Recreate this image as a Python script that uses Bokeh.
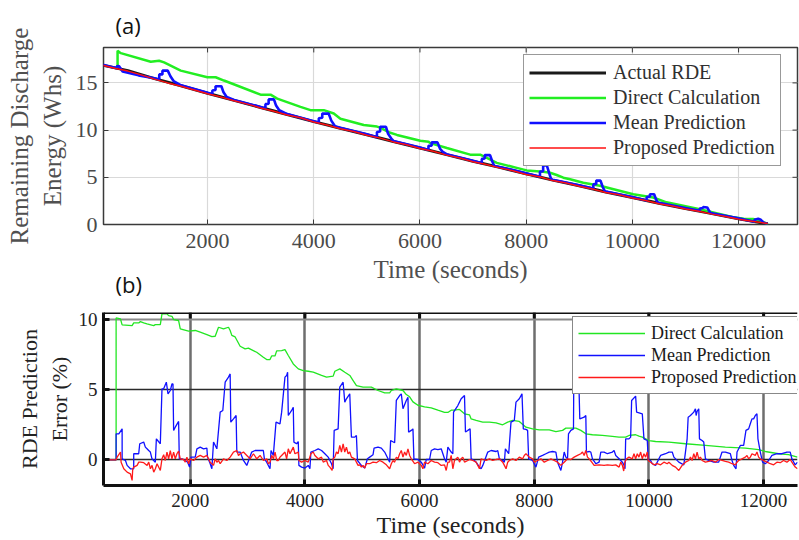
from bokeh.plotting import figure
from bokeh.layouts import column
from bokeh.models import (Range1d, FixedTicker, Legend, LegendItem,
                          Title, Grid, Span)
from bokeh.embed import file_html
from bokeh.resources import INLINE

# ---------------- data: panel (a) Remaining Discharge Energy (Whs) ----------------
top_x_actual = [0, 500, 1000, 1500, 2000, 2500, 3000, 3500, 4000, 4500, 5000, 5500, 6000,
                6500, 7000, 7500, 8000, 8500, 9000, 9500, 10000, 10500, 11000, 11500, 12000, 12550]
top_actual = [16.9, 16.3, 15.45, 14.7, 13.9, 13.15, 12.4, 11.65, 10.9, 10.2, 9.5, 8.8, 8.1,
              7.4, 6.7, 6.05, 5.37, 4.7, 4.1, 3.45, 2.86, 2.25, 1.7, 1.15, 0.6, 0.07]

top_x_direct = [305, 305, 366, 930, 1087, 1181, 1494, 1996, 2152, 2309, 2998, 3186, 3312, 3750,
                3938, 4189, 4377, 4502, 4941, 5066, 5191, 5254, 5411, 5567, 6006, 6162, 6194,
                6507, 6946, 7134, 7259, 7447, 7823, 8011, 8324, 8450, 8575, 8700, 8826, 9076,
                9389, 10016, 10392, 10643, 11270, 11896, 12100, 12272, 12400, 12554]
top_direct = [16.6, 18.4, 18.15, 17.24, 17.35, 17.17, 16.3, 15.6, 15.6, 15.25, 13.75, 13.75, 13.33,
              12.46, 12.11, 12.11, 11.76, 11.2, 10.54, 10.47, 10.37, 10.26, 9.77, 9.49, 8.87, 8.77,
              8.62, 8.1, 7.4, 7.4, 7.05, 6.53, 6.0, 5.73, 5.59, 5.48, 5.24, 4.96, 4.79, 4.43,
              4.1, 3.21, 2.86, 2.35, 1.63, 0.77, 0.6, 0.59, 0.45, 0.0]

top_x_mean = [0, 290, 290, 330, 400, 700, 1000, 1090, 1090, 1150, 1150, 1250, 1300, 1360, 1500,
              2000, 2090, 2090, 2150, 2150, 2260, 2300, 2360, 2500, 3000, 3090, 3090, 3150, 3150,
              3250, 3290, 3350, 3500, 4000, 4095, 4095, 4160, 4160, 4280, 4330, 4400, 4500, 5000,
              5190, 5190, 5250, 5250, 5360, 5400, 5460, 5500, 6000, 6160, 6160, 6220, 6220, 6330,
              6380, 6430, 6500, 7000, 7165, 7165, 7220, 7220, 7320, 7360, 7400, 7500, 8000, 8260,
              8260, 8320, 8320, 8390, 8430, 8470, 8500, 9000, 9265, 9265, 9320, 9320, 9400, 9440,
              9480, 9500, 10000, 10270, 10270, 10330, 10330, 10410, 10450, 10480, 10500, 11000,
              11270, 11270, 11330, 11330, 11410, 11450, 11480, 11500, 12000, 12300, 12300, 12370,
              12420, 12470, 12550]
top_mean = [16.95, 16.55, 16.75, 16.8, 16.2, 15.8, 15.5, 15.35, 15.9, 15.9, 16.3, 16.3, 15.7, 15.2,
            14.75, 13.95, 13.8, 14.2, 14.25, 14.65, 14.65, 14.0, 13.5, 13.2, 12.45, 12.3, 12.75,
            12.8, 13.25, 13.25, 12.6, 12.1, 11.7, 10.95, 10.8, 11.25, 11.3, 11.75, 11.75, 11.0,
            10.4, 10.25, 9.55, 9.25, 9.8, 9.85, 10.35, 10.35, 9.6, 9.1, 8.85, 8.15, 7.9, 8.35,
            8.35, 8.7, 8.7, 8.0, 7.7, 7.45, 6.75, 6.5, 6.95, 7.0, 7.35, 7.35, 6.7, 6.2, 6.1, 5.42,
            5.05, 5.6, 5.65, 6.25, 6.25, 5.5, 4.8, 4.75, 4.15, 3.8, 4.25, 4.3, 4.65, 4.65, 4.0,
            3.55, 3.5, 2.9, 2.55, 2.9, 2.95, 3.2, 3.2, 2.6, 2.3, 2.3, 1.75, 1.45, 1.7, 1.75, 1.85,
            1.8, 1.4, 1.15, 1.2, 0.65, 0.3, 0.5, 0.6, 0.5, 0.2, 0.05]

top_x_prop = [0, 250, 500, 750, 1000, 1250, 1500, 1750, 2000, 2250, 2500, 2750, 3000, 3250, 3500,
              3750, 4000, 4250, 4500, 4750, 5000, 5250, 5500, 5750, 6000, 6250, 6500, 6750, 7000,
              7250, 7500, 7750, 8000, 8250, 8500, 8750, 9000, 9250, 9500, 9750, 10000, 10250,
              10500, 10750, 11000, 11250, 11500, 11750, 12000, 12250, 12550]
top_prop = [16.9, 16.55, 16.25, 15.85, 15.4, 15.0, 14.65, 14.25, 13.85, 13.5, 13.1, 12.75, 12.35,
            12.0, 11.6, 11.3, 10.85, 10.55, 10.15, 9.85, 9.45, 9.15, 8.75, 8.45, 8.05, 7.75, 7.35,
            7.05, 6.65, 6.35, 6.0, 5.7, 5.3, 5.05, 4.65, 4.4, 4.05, 3.75, 3.4, 3.15, 2.8, 2.55,
            2.2, 1.95, 1.65, 1.4, 1.1, 0.85, 0.55, 0.35, 0.1]

top_xticks = [2000, 4000, 6000, 8000, 10000, 12000]
top_yticks = [0, 5, 10, 15]

# ---------------- data: panel (b) RDE prediction error (%) ----------------
err_x_direct = [487, 707, 707, 783, 812, 986, 1014, 1101, 1130, 1188, 1246, 1362, 1391, 1478, 1507,
                1594, 1623, 1681, 1710, 1797, 1826, 1971, 2087, 2174, 2290, 2377, 2435, 2493, 2580,
                2667, 2696, 2725, 2783, 2870, 2957, 3014, 3159, 3275, 3333, 3391, 3420, 3478, 3507,
                3594, 3652, 3710, 3797, 3884, 3971, 4058, 4145, 4290, 4377, 4493, 4522, 4609, 4696,
                4783, 4841, 4899, 5014, 5159, 5275, 5391, 5478, 5507, 5594, 5710, 5768, 5826, 5884,
                5971, 6087, 6203, 6319, 6435, 6493, 6551, 6609, 6696, 6783, 6870, 6899, 6986, 7101,
                7217, 7333, 7449, 7536, 7623, 7739, 7855, 7971, 8087, 8261, 8377, 8493, 8551, 8725,
                8812, 8899, 9014, 9188, 9362, 9478, 9594, 9652, 9768, 9826, 9884, 10000, 10116,
                10348, 10638, 10986, 11333, 11681, 11913, 12029, 12261, 12435, 12591]
err_direct = [0, 0, 10.09, 10.02, 9.6, 9.55, 9.74, 9.74, 9.83, 9.74, 9.67, 9.55, 9.62, 9.62, 10.38,
              10.38, 10.26, 10.21, 9.98, 9.91, 9.31, 9.15, 9.2, 9.08, 8.91, 8.77, 8.79, 9.43, 9.31,
              9.43, 9.2, 8.85, 8.74, 8.08, 7.89, 7.94, 7.65, 7.3, 7.13, 7.13, 7.39, 7.39, 7.75,
              7.77, 7.84, 7.42, 6.82, 6.47, 6.35, 6.3, 6.23, 6.0, 5.88, 5.95, 6.3, 6.47, 6.23,
              6.0, 5.64, 5.28, 5.17, 5.17, 4.93, 4.76, 4.76, 4.93, 5.05, 4.93, 4.64, 4.48, 4.12,
              3.88, 3.77, 3.7, 3.53, 3.37, 3.37, 3.53, 3.53, 3.58, 3.27, 3.2, 2.91, 2.8, 2.68,
              2.68, 2.63, 2.49, 2.68, 2.8, 2.73, 2.32, 2.2, 2.13, 2.13, 2.01, 2.09, 2.25, 2.25,
              2.09, 1.85, 1.78, 1.73, 1.66, 1.61, 1.61, 1.73, 1.78, 1.68, 1.61, 1.37, 1.3,
              1.26, 1.14, 1.02, 0.9, 0.83, 0.73, 0.59, 0.43, 0.36, 0.19]

err_x_mean = [487, 707, 707, 754, 812, 812, 870, 899, 957, 1014, 1014, 1101, 1119, 1188, 1217, 1246,
              1275, 1304, 1333, 1391, 1409, 1478, 1507, 1536, 1583, 1612, 1652, 1681, 1699, 1710,
              1739, 1797, 1809, 1855, 1913, 1954, 1988, 2012, 2087, 2116, 2174, 2232, 2290, 2301,
              2348, 2377, 2406, 2464, 2522, 2568, 2609, 2667, 2696, 2707, 2754, 2800, 2812, 2870,
              2928, 2986, 3072, 3130, 3217, 3275, 3293, 3333, 3391, 3409, 3449, 3496, 3565, 3594,
              3652, 3681, 3698, 3710, 3768, 3797, 3808, 3855, 3884, 3895, 3942, 4000, 4058, 4087,
              4104, 4174, 4232, 4290, 4348, 4406, 4464, 4492, 4510, 4579, 4608, 4666, 4695, 4724,
              4782, 4811, 4869, 4898, 4916, 4985, 5043, 5090, 5130, 5188, 5206, 5275, 5333, 5391,
              5449, 5478, 5495, 5565, 5594, 5652, 5681, 5710, 5768, 5797, 5808, 5855, 5884, 5901,
              5971, 6029, 6087, 6116, 6174, 6203, 6261, 6319, 6377, 6406, 6435, 6464, 6493, 6551,
              6580, 6592, 6667, 6696, 6725, 6783, 6800, 6841, 6881, 6899, 6957, 6986, 7044, 7073,
              7102, 7189, 7247, 7334, 7363, 7392, 7450, 7479, 7496, 7554, 7594, 7652, 7681, 7739,
              7786, 7809, 7855, 7884, 7902, 7971, 8029, 8076, 8145, 8203, 8261, 8319, 8377, 8406,
              8464, 8493, 8522, 8551, 8580, 8597, 8638, 8684, 8690, 8771, 8794, 8870, 8899, 8910,
              8957, 8986, 9015, 9073, 9131, 9160, 9218, 9276, 9363, 9392, 9421, 9479, 9537, 9566,
              9583, 9594, 9652, 9681, 9698, 9768, 9785, 9884, 9913, 9971, 9988, 10029, 10058,
              10116, 10145, 10174, 10203, 10290, 10348, 10406, 10435, 10521, 10608, 10637, 10666,
              10684, 10724, 10782, 10811, 10823, 10840, 10869, 10881, 10927, 10956, 10985, 11043,
              11130, 11217, 11275, 11333, 11420, 11449, 11478, 11519, 11536, 11594, 11652, 11692,
              11739, 11768, 11797, 11826, 11855, 11884, 11901, 11942, 11982, 12029, 12087, 12145,
              12232, 12319, 12406, 12464, 12493, 12551, 12591]
err_mean = [0, 0, 1.85, 1.85, 2.2, 0.07, -0.05, -0.4, -0.64, -0.64, 0.43, 0.43, 1.14, 1.26, 0.9, 0.78,
            0.66, 0.55, 0.07, -0.17, 1.49, 1.14, 5.05, 5.05, 5.52, 4.69, 4.93, 5.4, 5.4, 2.09,
            2.32, 2.73, 0.07, 0.07, -0.05, -0.17, -0.52, 0.19, 0.19, 0.78, 0.9, 0.78, 0.83, 0.19,
            -0.28, -0.64, 1.26, 0.78, 3.39, 3.51, 5.52, 5.88, 6.11, 2.68, 2.91, 3.15, 0.55, 0.55,
            -0.05, -0.4, 0.55, 0.66, 0.66, 0.66, 0.07, -0.17, -0.64, 0.66, 0.31, 2.68, 2.56, 3.39,
            5.88, 5.99, 6.23, 3.15, 3.51, 3.74, 1.26, 1.14, 1.3, -0.4, -0.52, -0.59, -0.4, -0.64,
            0.55, 0.66, 0.78, 0.66, 0.43, 0.19, -0.28, -0.64, 2.09, 2.2, 5.17, 5.52, 4.1, 4.34,
            4.69, 1.61, 1.61, 1.73, -0.05, -0.4, -0.59, 0.07, 0.19, 0.36, 0.83, 0.9, 0.83, 0.55,
            0.07, -0.17, 1.37, 1.21, 4.22, 4.57, 4.69, 3.63, 4.22, 4.45, 1.97, 2.09, 2.2, 0.07,
            0.02, -0.17, -0.59, 0.02, 0.02, 0.66, 0.78, 0.73, 0.78, 0.43, 0.07, -0.17, 0.9, 0.55,
            0.43, 3.39, 3.86, 4.1, 4.34, 4.57, 1.97, 2.09, 2.2, 0.07, -0.05, -0.17, -0.52, -0.64,
            -0.4, 0.55, 0.66, 0.59, 0.66, 0.07, -0.05, -0.17, 0.78, 0.43, 2.68, 2.8, 4.1, 4.34,
            4.69, 2.2, 2.16, 2.09, 0.07, -0.05, -0.52, 0.19, 0.31, 0.43, 0.55, 0.59, 0.55, -0.17,
            -0.76, -0.17, 0.55, 0.19, 0.07, 1.85, 2.09, 2.2, 6.3, 6.6, 2.91, 3.03, 3.15, 0.55,
            0.59, 0.55, 0.07, -0.28, -0.17, 0.55, 0.55, 0.43, 0.55, 0.66, 0.31, 0.07, -0.17, -0.4,
            -0.64, 1.49, 1.49, 1.61, 4.22, 4.53, 3.39, 3.27, 1.49, 1.37, 0.02, -0.05, -0.28,
            -0.4, -0.17, 0.07, 0.31, 0.43, 0.55, 0.55, 0.19, -0.17, -0.36, 0.55, 1.49,
            3.03, 3.15, 3.39, 3.63, 3.15, 3.44, 3.63, 1.49, 1.37, 1.26, 0.07, -0.05,
            -0.17, -0.17, 0.55, 0.55, 0.43, -0.05, -0.4, -0.64, 0.55, 1.02, 1.02, 2.09,
            2.2, 2.56, 2.91, 2.91, 3.15, 3.27, 1.49, 0.55, -0.17, -0.28, -0.05, 0.31,
            0.43, 0.43, 0.55, 0.55, 0.07, -0.36, -0.17]

err_x_prop = [487, 707, 725, 783, 794, 841, 899, 957, 986, 997, 1015, 1073, 1102, 1131, 1189, 1247,
              1276, 1305, 1334, 1363, 1392, 1421, 1478, 1507, 1536, 1565, 1594, 1623, 1652, 1681,
              1710, 1739, 1768, 1797, 1826, 1884, 1913, 1942, 1971, 2000, 2058, 2116, 2174, 2232,
              2290, 2319, 2348, 2406, 2435, 2464, 2493, 2522, 2580, 2638, 2696, 2754, 2812, 2841,
              2870, 2928, 2986, 3044, 3102, 3160, 3218, 3276, 3334, 3363, 3392, 3421, 3450, 3479,
              3508, 3536, 3565, 3594, 3652, 3681, 3710, 3739, 3797, 3826, 3884, 3895, 3942, 4000,
              4058, 4104, 4145, 4174, 4232, 4290, 4319, 4377, 4406, 4435, 4475, 4492, 4521, 4550,
              4579, 4608, 4637, 4666, 4695, 4724, 4753, 4782, 4811, 4869, 4898, 4927, 4956, 4985,
              5014, 5043, 5072, 5130, 5188, 5246, 5304, 5362, 5420, 5478, 5507, 5536, 5565, 5594,
              5623, 5652, 5681, 5710, 5739, 5768, 5797, 5826, 5855, 5913, 5971, 6029, 6058, 6087,
              6145, 6203, 6261, 6319, 6377, 6435, 6464, 6493, 6522, 6551, 6580, 6609, 6638, 6667,
              6696, 6725, 6754, 6783, 6841, 6870, 6928, 6986, 7044, 7073, 7102, 7160, 7218, 7276,
              7334, 7392, 7450, 7479, 7508, 7537, 7566, 7624, 7681, 7739, 7797, 7826, 7855, 7913,
              7971, 8000, 8058, 8116, 8174, 8232, 8290, 8348, 8406, 8464, 8522, 8580, 8638, 8696,
              8754, 8812, 8841, 8870, 8899, 8928, 8957, 9003, 9044, 9131, 9218, 9276, 9363, 9421,
              9479, 9508, 9537, 9560, 9580, 9610, 9652, 9710, 9739, 9768, 9797, 9826, 9855, 9884,
              9913, 9942, 9971, 9988, 10029, 10087, 10145, 10203, 10261, 10319, 10348, 10406,
              10464, 10521, 10579, 10637, 10695, 10724, 10753, 10782, 10811, 10840, 10869, 10898,
              10927, 10985, 11043, 11101, 11159, 11217, 11275, 11333, 11391, 11449, 11507, 11536,
              11565, 11623, 11681, 11710, 11739, 11768, 11797, 11855, 11884, 11913, 11942, 12000,
              12058, 12116, 12174, 12232, 12290, 12348, 12406, 12464, 12493, 12551, 12591]
err_prop = [0, 0, 0.19, 0.55, -0.17, -0.64, -0.88, -1.0, -1.47, -0.64, -0.52, -0.4, -0.17, -0.17,
            -0.21, -0.4, -0.17, -0.64, -0.4, -0.88, -0.64, -0.28, -0.76, 0.07, 0.36, -0.05, 0.55,
            0.07, 0.66, 0.07, 0.55, 0.07, 0.43, 0.62, 0.07, 0.02, -0.17, 0.19, -0.28, 0.07, -0.05,
            0.19, 0.31, 0.19, 0.31, 0.07, -0.17, -0.4, 0.07, -0.17, -0.05, -0.28, 0.07, -0.05,
            0.19, 0.55, 0.66, 0.31, 0.43, 0.55, 0.31, 0.07, 0.43, 0.07, 0.31, -0.05, 0.07, -0.28,
            -0.17, 0.31, 0.07, 0.55, -0.05, -0.05, 0.19, 0.31, 0.55, 0.07, 0.78, 0.43, 0.9, 0.43,
            0.55, -0.05, -0.17, -0.05, -0.17, 0.43, 0.55, 0.31, 0.07, 0.19, -0.17, -0.05, -0.4,
            -0.52, -0.76, 0.07, 0.19, 0.55, 0.43, 1.02, 0.55, 1.14, 0.55, 0.9, 0.43, 0.55, 0.19,
            0.07, -0.17, -0.4, -0.36, -0.52, -0.4, -0.59, -0.28, -0.28, -0.17, -0.21, -0.05,
            -0.17, -0.36, -0.64, -0.28, -0.05, -0.17, 0.19, 0.07, 0.43, 0.66, 0.19, 0.55, 0.31,
            0.78, 0.31, 0.07, -0.28, -0.17, -0.4, -0.64, -0.17, -0.28, -0.05, -0.17, -0.21, -0.4,
            -0.36, -0.76, -0.17, -0.17, 0.31, -0.64, -0.05, 0.07, 0.19, -0.17, 0.07, 0.19, -0.17,
            -0.05, 0.02, -0.05, -0.17, -0.64, 0.07, 0.02, -0.05, 0.07, -0.05, 0.02, 0.07, -0.17,
            -0.4, -0.64, -0.17, -0.05, 0.07, -0.05, 0.19, 0.07, 0.31, 0.43, 0.19, 0.07, -0.17,
            -0.05, 0.07, -0.17, -0.05, 0.07, -0.05, -0.17, -0.4, -0.17, 0.07, 0.02, 0.19, 0.31,
            0.43, 0.55, 0.31, 0.66, 0.19, 0.07, -0.17, -0.4, -0.36, -0.4, -0.36, -0.4, -0.36,
            -0.52, -0.17, -0.4, -0.8, -0.17, 0.07, 0.19, 0.07, 0.43, 0.07, 0.43, 0.19, 0.55, 0.07,
            0.43, 0.19, 0.55, -0.05, -0.17, -0.36, -0.28, -0.36, -0.17, -0.28, -0.17, -0.4,
            -0.52, -0.76, -0.4, -0.17, -0.05, 0.19, -0.05, 0.43, 0.07, 0.55, 0.07, 0.19,
            -0.05, -0.17, -0.12, -0.05, -0.17, 0.02, -0.05, -0.12, -0.17, -0.28, -0.36, -0.17,
            -0.05, 0.07, 0.19, 0.31, 0.07, 0.19, 0.43, 0.31, 0.55, 0.19, 0.07, -0.05,
            -0.17, -0.28, -0.36, -0.17, -0.21, -0.05, -0.17, 0.02, -0.17, -0.52, -0.64]

err_xticks = [2000, 4000, 6000, 8000, 10000, 12000]
err_yticks = [0, 5, 10]

SERIF = "Liberation Serif"

# ---------------- panel (a) ----------------
top_xr = Range1d(40, 13110)
top_yr = Range1d(0, 18.75)
top = figure(width=799, height=300, x_range=top_xr, y_range=top_yr,
             output_backend="svg", toolbar_location=None,
             min_border_left=103, min_border_right=2, min_border_top=45, min_border_bottom=76)
top.title = Title(text="(a)", align="left", offset=12, text_font="Open Sans",
                  text_font_size="22px", text_font_style="normal", text_color="#111111",
                  standoff=15)
top.outline_line_color = "#3a3a3a"
top.outline_line_width = 1.5
top.background_fill_color = "white"
top.border_fill_color = "white"

top.xaxis.ticker = FixedTicker(ticks=top_xticks)
top.yaxis.ticker = FixedTicker(ticks=top_yticks)
top.xgrid.ticker = FixedTicker(ticks=top_xticks)
top.ygrid.ticker = FixedTicker(ticks=top_yticks)
top.grid.grid_line_color = "#d9d9d9"
top.grid.grid_line_width = 1.2

for ax in (top.xaxis[0], top.yaxis[0]):
    ax.axis_line_color = None
    ax.major_tick_in = 5
    ax.major_tick_out = 0
    ax.minor_tick_line_color = None
    ax.major_tick_line_color = "#3a3a3a"
    ax.major_label_text_font = SERIF
    ax.major_label_text_font_size = "22px"
    ax.major_label_text_color = "#4a4a4a"
    ax.axis_label_text_font = SERIF
    ax.axis_label_text_font_style = "normal"
    ax.axis_label_text_font_size = "25px"
    ax.axis_label_text_color = "#505050"
top.xaxis.axis_label = "Time (seconds)"
top.xaxis.major_label_standoff = 9
top.xaxis.axis_label_standoff = 5
top.yaxis.axis_label = "Remaining Discharge\nEnergy (Whs)"
top.yaxis.major_label_standoff = 6
top.yaxis.axis_label_standoff = 7

# inner ticks on the top and right borders (MATLAB "box on" style)
tick_len_y = 5 / 9.55
tick_len_x = 5 / 0.0531
top.segment(x0=top_xticks, x1=top_xticks, y0=[top_yr.end] * len(top_xticks),
            y1=[top_yr.end - tick_len_y] * len(top_xticks), line_color="#3a3a3a", line_width=1)
top.segment(x0=[top_xr.end] * len(top_yticks), x1=[top_xr.end - tick_len_x] * len(top_yticks),
            y0=top_yticks, y1=top_yticks, line_color="#3a3a3a", line_width=1)

r_act = top.line(top_x_actual, top_actual, color="#1a1a1a", line_width=3)
r_dir = top.line(top_x_direct, top_direct, color="#22ee22", line_width=2.5)
r_mean = top.line(top_x_mean, top_mean, color="#1010ff", line_width=2.6)
r_prop = top.line(top_x_prop, top_prop, color="#ff1010", line_width=1.5)

leg_a = Legend(items=[LegendItem(label="Actual RDE", renderers=[r_act]),
                      LegendItem(label="Direct Calculation", renderers=[r_dir]),
                      LegendItem(label="Mean Prediction", renderers=[r_mean]),
                      LegendItem(label="Proposed Prediction", renderers=[r_prop])],
               location=(420, 58), label_text_font=SERIF, label_text_font_size="20px",
               label_text_color="#303030", glyph_width=77, glyph_height=25, label_height=25,
               spacing=0, padding=5, label_standoff=7, margin=0,
               border_line_color="#333333", border_line_width=1.5, background_fill_alpha=1)
top.add_layout(leg_a)

# panel label (b): a title placed under the upper panel's x axis, just above the lower panel
title_b = Title(text="(b)", align="left", offset=12, text_font="Open Sans",
                text_font_size="22px", text_font_style="normal", text_color="#111111",
                vertical_align="top", standoff=-34)
top.add_layout(title_b, "below")

# ---------------- panel (b) ----------------
bot_xr = Range1d(487, 12591)
bot_yr = Range1d(-1.83, 10.48)
bot = figure(width=799, height=240, x_range=bot_xr, y_range=bot_yr,
             output_backend="svg", toolbar_location=None,
             min_border_left=103, min_border_right=0, min_border_top=12, min_border_bottom=55)
bot.outline_line_color = None
bot.background_fill_color = "white"
bot.border_fill_color = "white"

bot.xaxis.ticker = FixedTicker(ticks=err_xticks)
bot.yaxis.ticker = FixedTicker(ticks=err_yticks)
bot.xgrid.ticker = FixedTicker(ticks=err_xticks)
bot.xgrid.grid_line_color = "#6e6e6e"
bot.xgrid.grid_line_width = 2.5
bot.ygrid.ticker = FixedTicker(ticks=err_yticks[:2])
bot.ygrid.grid_line_color = "#2a2a2a"
bot.ygrid.grid_line_width = 1.5
bot.add_layout(Grid(dimension=1, ticker=FixedTicker(ticks=err_yticks[2:]),
                    grid_line_color="#8a8a8a", grid_line_width=2))

for ax in (bot.xaxis[0], bot.yaxis[0]):
    ax.axis_line_color = "#111111"
    ax.axis_line_width = 3
    ax.major_tick_in = 6
    ax.major_tick_out = 0
    ax.major_tick_line_width = 3
    ax.major_tick_line_color = "#111111"
    ax.minor_tick_line_color = None
    ax.major_label_text_font = SERIF
    ax.major_label_text_font_size = "19px"
    ax.major_label_text_color = "#222222"
    ax.axis_label_text_font = SERIF
    ax.axis_label_text_font_style = "normal"
    ax.axis_label_text_color = "#222222"
bot.xaxis.axis_label = "Time (seconds)"
bot.xaxis.axis_label_text_font_size = "24px"
bot.xaxis.major_label_standoff = 8
bot.xaxis.axis_label_standoff = 2
bot.yaxis.axis_label = "RDE Prediction\nError (%)"
bot.yaxis.axis_label_text_font_size = "22px"
bot.yaxis.major_label_standoff = 6
bot.yaxis.axis_label_standoff = 4

# thick top border with inner ticks (no right border: the panel runs to the page edge)
bot.add_layout(Span(location=bot_yr.end, dimension="width", line_color="#111111", line_width=3))
bot.segment(x0=err_xticks, x1=err_xticks, y0=[bot_yr.end] * len(err_xticks),
            y1=[bot_yr.end - 6 / 14.06] * len(err_xticks), line_color="#111111", line_width=3)

b_dir = bot.line(err_x_direct, err_direct, color="#22e622", line_width=1.3)
b_mean = bot.line(err_x_mean, err_mean, color="#1010ff", line_width=1.3)
b_prop = bot.line(err_x_prop, err_prop, color="#ff1a1a", line_width=1.3)

leg_b = Legend(items=[LegendItem(label="Direct Calculation", renderers=[b_dir]),
                      LegendItem(label="Mean Prediction", renderers=[b_mean]),
                      LegendItem(label="Proposed Prediction", renderers=[b_prop])],
               location=(469, 91), label_text_font=SERIF, label_text_font_size="18px",
               label_text_color="#1a1a1a", glyph_width=67, glyph_height=22, label_height=22,
               spacing=0, padding=5, label_standoff=6, margin=0,
               border_line_color="#111111", border_line_width=1, background_fill_alpha=1)
bot.add_layout(leg_b)

layout = column(top, bot, spacing=0)
open("out.html", "w").write(file_html(layout, INLINE))
